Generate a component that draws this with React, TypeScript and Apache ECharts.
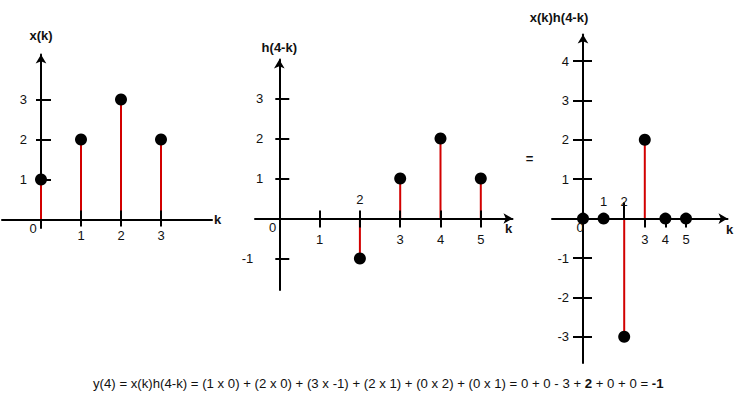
import { useEffect, useRef } from 'react';
import * as echarts from 'echarts';

// ---------- data ----------
const xKs = [0, 1, 2, 3];
const xValues = [1, 2, 3, 2];
const hKs = [2, 3, 4, 5];
const hValues = [-1, 1, 2, 1];
const pKs = [0, 1, 2, 3, 4, 5];
const pValues = [0, 0, -3, 2, 0, 0];

// ---------- ticks / labels ----------
const plot1XTicks = [1, 2, 3];
const plot1XLabels = [1, 2, 3];
const plot1YTicks = [1, 2, 3];
const plot2XTicks = [1, 2, 3, 4, 5];
const plot2XLabelsBelow = [1, 3, 4, 5];
const plot2XLabelsAbove = [2];
const plot2YTicks = [-1, 1, 2, 3];
const plot3XTicksUp = [2];
const plot3XTicksDown = [3, 4, 5];
const plot3XLabelsBelow = [3, 4, 5];
const plot3XLabelsAbove = [1, 2];
const plot3YTicks = [-3, -2, -1, 1, 2, 3, 4];

const axisNames = ['x(k)', 'h(4-k)', 'x(k)h(4-k)'];
const kName = 'k';
const zeroLabel = '0';
const equalsSign = '=';
const equationHead =
  'y(4) = x(k)h(4-k) = (1 x 0) + (2 x 0) + (3 x -1) + (2 x 1) + (0 x 2) + (0 x 1) = 0 + 0 - 3 + ';
const equationBold = '2';
const equationMid = ' + 0 + 0 = ';
const equationResult = '-1';

// ---------- layout ----------
const FONT = "'Liberation Sans', Arial, Helvetica, sans-serif";
const RED = '#d20000';
const INK = '#111';

type Frame = { X0: number; Y0: number; sx: number; sy: number; left: number; right: number; top: number; bottom: number };
const frames: Frame[] = [
  { X0: 41, Y0: 219.5, sx: 40, sy: 40, left: 2, right: 212, top: 54.5, bottom: 228 },
  { X0: 279.3, Y0: 218.5, sx: 40.3, sy: 40, left: 255, right: 512.5, top: 59.5, bottom: 290 },
  { X0: 583, Y0: 218.6, sx: 20.6, sy: 39.4, left: 552, right: 727.5, top: 34.5, bottom: 363 },
];

const baseText = { color: INK, fontFamily: FONT, fontSize: 13 };

function gridOf(f: Frame) {
  return {
    left: f.left,
    top: f.top,
    width: f.right - f.left,
    height: f.bottom - f.top,
    containLabel: false,
    outerBoundsMode: 'none',
  };
}

function xAxisOf(gi: number, f: Frame, main: boolean, ticks: number[], tickLen: number, labels: number[], margin: number, arrow: boolean, extra: any = {}) {
  return {
    type: 'value',
    gridIndex: gi,
    position: 'bottom',
    offset: -(f.bottom - f.Y0),
    min: (f.left - f.X0) / f.sx,
    max: (f.right - f.X0) / f.sx,
    z: 3,
    axisLine: {
      show: main,
      onZero: false,
      symbol: arrow ? ['none', 'arrow'] : ['none', 'none'],
      symbolSize: [8, 9],
      lineStyle: { color: '#000', width: 2 },
    },
    axisTick: {
      show: ticks.length > 0,
      inside: main,
      length: tickLen,
      customValues: ticks,
      lineStyle: { color: '#000', width: 2 },
    },
    axisLabel: {
      show: labels.length > 0,
      inside: !main,
      margin,
      customValues: labels,
      ...baseText,
    },
    splitLine: { show: false },
    ...extra,
  };
}

function yAxisOf(gi: number, f: Frame, main: boolean, ticks: number[], tickLen: number, labels: number[], margin: number, extra: any = {}, negPad = 0) {
  return {
    type: 'value',
    gridIndex: gi,
    position: 'left',
    offset: -(f.X0 - f.left),
    min: (f.Y0 - f.bottom) / f.sy,
    max: (f.Y0 - f.top) / f.sy,
    z: 1,
    axisLine: {
      show: main,
      onZero: false,
      symbol: ['none', 'arrow'],
      symbolSize: [8, 9],
      lineStyle: { color: '#000', width: 2 },
    },
    axisTick: {
      show: ticks.length > 0,
      inside: main,
      length: tickLen,
      customValues: ticks,
      lineStyle: { color: '#000', width: 2 },
    },
    axisLabel: {
      show: labels.length > 0,
      margin,
      customValues: labels,
      ...baseText,
      formatter: (v: number) => (v < 0 && negPad ? `{neg|${v}}` : `${v}`),
      rich: { neg: { ...baseText, padding: [0, negPad, 0, 0] } },
    },
    splitLine: { show: false },
    ...extra,
  };
}

const kNameStyle = (gap: number, padTop: number, vAlign = 'top', padBottom = 0) => ({
  name: kName,
  nameLocation: 'end',
  nameGap: gap,
  nameMoveOverlap: false,
  nameTextStyle: { ...baseText, fontWeight: 'bold', align: 'left', verticalAlign: vAlign, padding: [padTop, 0, padBottom, 0] },
});

const yNameStyle = (name: string, gap: number, padRight: number) => ({
  name,
  nameLocation: 'end',
  nameGap: gap,
  nameMoveOverlap: false,
  nameTextStyle: { ...baseText, fontWeight: 'bold', align: 'center', padding: [0, padRight, 0, 0] },
});

function stemSeries(idx: number, ks: number[], vals: number[]) {
  const data = ks.map((k, i) => [k, vals[i]]);
  return [
    {
      type: 'bar',
      xAxisIndex: idx * 2,
      yAxisIndex: idx * 2,
      data,
      barWidth: 2,
      itemStyle: { color: RED },
      z: 2,
      silent: true,
    },
    {
      type: 'scatter',
      xAxisIndex: idx * 2,
      yAxisIndex: idx * 2,
      data,
      symbol: 'circle',
      symbolSize: 12,
      itemStyle: { color: '#000', opacity: 1 },
      z: 5,
      silent: true,
    },
  ];
}

function textEl(x: number, y: number, text: string, bold = false) {
  return {
    type: 'text',
    x,
    y,
    z: 10,
    style: {
      text,
      fill: INK,
      fontFamily: FONT,
      fontSize: 13,
      fontWeight: bold ? 'bold' : 'normal',
      align: 'center',
      verticalAlign: 'middle',
    },
  };
}

export default function App() {
  const ref = useRef<HTMLDivElement>(null);

  useEffect(() => {
    if (!ref.current) return;
    const chart = echarts.init(ref.current, undefined, { renderer: 'svg' });
    const [f1, f2, f3] = frames;
    const eqText = { ...baseText, fontSize: 13.2 };

    const option: any = {
      animation: false,
      backgroundColor: '#fff',
      title: {
        left: 93,
        top: 376.5,
        padding: 0,
        text: `{n|${equationHead}}{b|${equationBold}}{n|${equationMid}}{b|${equationResult}}`,
        textStyle: {
          ...eqText,
          rich: {
            n: { ...eqText, fontWeight: 'normal' },
            b: { ...eqText, fontWeight: 'bold' },
          },
        },
      },
      grid: [gridOf(f1), gridOf(f2), gridOf(f3)],
      xAxis: [
        xAxisOf(0, f1, true, plot1XTicks, 9, plot1XLabels, 9, false, kNameStyle(2, 0, 'middle', 5)),
        xAxisOf(0, f1, false, plot1XTicks, 7, [], 0, false),
        xAxisOf(1, f2, true, plot2XTicks, 8, plot2XLabelsBelow, 14, true, kNameStyle(-7.5, 3)),
        xAxisOf(1, f2, false, plot2XTicks, 9, plot2XLabelsAbove, 13, false),
        xAxisOf(2, f3, true, plot3XTicksUp, 16, plot3XLabelsBelow, 14, true, kNameStyle(-1.5, 4)),
        xAxisOf(2, f3, false, plot3XTicksDown, 9, plot3XLabelsAbove, 11, false),
      ],
      yAxis: [
        yAxisOf(0, f1, true, plot1YTicks, 10, plot1YTicks, 14, yNameStyle(axisNames[0], 13, 0)),
        yAxisOf(0, f1, false, plot1YTicks, 5, [], 0),
        yAxisOf(1, f2, true, plot2YTicks, 10, plot2YTicks, 16, yNameStyle(axisNames[1], 6, 0), 10),
        yAxisOf(1, f2, false, plot2YTicks, 4, [], 0),
        yAxisOf(2, f3, true, plot3YTicks, 9, plot3YTicks, 14, yNameStyle(axisNames[2], 11, 48)),
        yAxisOf(2, f3, false, plot3YTicks, 10, [], 0),
      ],
      series: [...stemSeries(0, xKs, xValues), ...stemSeries(1, hKs, hValues), ...stemSeries(2, pKs, pValues)],
      graphic: [
        textEl(33, 228, zeroLabel),
        textEl(272.5, 227, zeroLabel),
        textEl(580, 227, zeroLabel),
        textEl(529.5, 158, equalsSign, true),
      ],
    };

    chart.setOption(option);
    return () => chart.dispose();
  }, []);

  return (
    <div
      ref={ref}
      style={{ position: 'fixed', left: 0, top: 0, width: 744, height: 397, background: '#fff' }}
    />
  );
}
